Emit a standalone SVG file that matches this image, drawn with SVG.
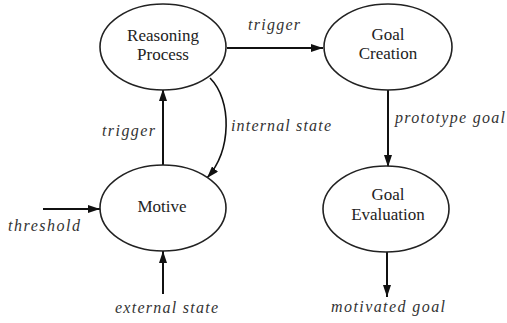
<svg xmlns="http://www.w3.org/2000/svg" width="507" height="323" viewBox="0 0 507 323">
<style>
.node ellipse{fill:#fff;stroke:#222;stroke-width:1.6}
.nt{font-size:17px;fill:#222;text-anchor:middle}
.lb{font-size:16px;font-style:italic;fill:#333}
.edge{stroke:#111;stroke-width:2;fill:none}
</style>
<defs>
<marker id="ah" viewBox="0 0 12 8" refX="12" refY="4" markerWidth="12" markerHeight="8" markerUnits="userSpaceOnUse" orient="auto">
<path d="M0,0 L12,4 L0,8 Z" fill="#111"/>
</marker>
</defs>
<rect width="507" height="323" fill="#fff"/>
<g id="connectors" font-family="Liberation Serif, serif">
<line class="edge" x1="227" y1="48" x2="323" y2="48" marker-end="url(#ah)"/>
<line class="edge" x1="163" y1="165" x2="163" y2="89" marker-end="url(#ah)"/>
<path class="edge" style="stroke-width:1.6" d="M210,78 C232,100 232,150 207,178" marker-end="url(#ah)"/>
<line class="edge" x1="388" y1="90" x2="388" y2="167" marker-end="url(#ah)"/>
<line class="edge" x1="387" y1="252" x2="387" y2="297" marker-end="url(#ah)"/>
<line class="edge" x1="43" y1="209" x2="100" y2="209" marker-end="url(#ah)"/>
<line class="edge" x1="163" y1="294" x2="163" y2="251" marker-end="url(#ah)"/>
<text class="lb" x="248" y="30" textLength="52">trigger</text>
<text class="lb" x="102" y="136" textLength="53">trigger</text>
<text class="lb" x="231" y="131" textLength="100">internal state</text>
<text class="lb" x="395" y="123" textLength="110">prototype goal</text>
<text class="lb" x="8" y="231" textLength="72">threshold</text>
<text class="lb" x="115" y="313" textLength="103">external state</text>
<text class="lb" x="331" y="312" textLength="114">motivated goal</text>
</g>
<g id="reasoning" class="node" font-family="Liberation Serif, serif">
<ellipse cx="163" cy="47" rx="63" ry="43"/>
<text class="nt" x="163" y="41">Reasoning</text>
<text class="nt" x="163" y="60">Process</text>
</g>
<g id="goal-creation" class="node" font-family="Liberation Serif, serif">
<ellipse cx="388" cy="47" rx="64" ry="43"/>
<text class="nt" x="388" y="40">Goal</text>
<text class="nt" x="388" y="59">Creation</text>
</g>
<g id="motive" class="node" font-family="Liberation Serif, serif">
<ellipse cx="163" cy="208" rx="63" ry="43"/>
<text class="nt" x="162" y="212">Motive</text>
</g>
<g id="goal-evaluation" class="node" font-family="Liberation Serif, serif">
<ellipse cx="386" cy="209" rx="63" ry="43"/>
<text class="nt" x="388" y="200">Goal</text>
<text class="nt" x="388" y="220">Evaluation</text>
</g>
</svg>
